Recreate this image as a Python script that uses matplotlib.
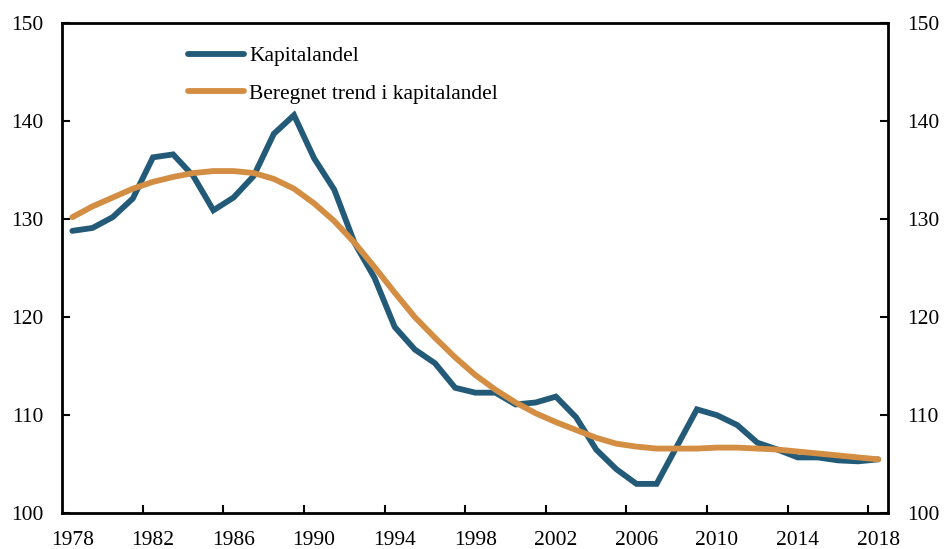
import matplotlib.pyplot as plt
import numpy as np

years = np.arange(1978, 2019)

kapitalandel = [
    128.8, 129.1, 130.2, 132.1, 136.3, 136.6, 134.4, 130.9, 132.2, 134.4,
    138.7, 140.6, 136.2, 133.0, 127.6, 124.0, 119.0, 116.7, 115.3, 112.8,
    112.3, 112.3, 111.1, 111.3, 111.9, 109.8, 106.5, 104.5, 103.0, 103.0,
    106.8, 110.6, 110.0, 109.0, 107.2, 106.5, 105.7, 105.7, 105.4, 105.3,
    105.5,
]

trend = [
    130.2, 131.3, 132.2, 133.1, 133.8, 134.3, 134.7, 134.9, 134.9, 134.7,
    134.1, 133.1, 131.6, 129.8, 127.6, 125.1, 122.5, 120.0, 117.9, 115.9,
    114.1, 112.6, 111.3, 110.2, 109.3, 108.5, 107.7, 107.1, 106.8, 106.6,
    106.6, 106.6, 106.7, 106.7, 106.6, 106.5, 106.3, 106.1, 105.9, 105.7,
    105.5,
]

label_years = np.arange(1978, 2019, 4)
y_ticks = [100, 110, 120, 130, 140, 150]

plt.rcParams["font.family"] = ["Liberation Serif", "DejaVu Serif"]
plt.rcParams["font.size"] = 15.5

fig = plt.figure(figsize=(9.45, 5.49), dpi=100)
ax = fig.add_axes([62.3 / 945, 1 - 513.3 / 549, 826 / 945, 490.3 / 549])

ax.plot(years, kapitalandel, color="#225a78", lw=4.2, solid_capstyle="round",
        solid_joinstyle="miter", label="Kapitalandel")
ax.plot(years, trend, color="#d38e43", lw=4.2, solid_capstyle="round",
        label="Beregnet trend i kapitalandel")

ax.set_xlim(1977.5, 2018.5)
ax.set_ylim(100, 150)

# labels centred on the years, tick marks between categories
ax.set_xticks(label_years)
ax.set_xticklabels([str(y) for y in label_years])
ax.tick_params(axis="x", which="major", length=0, pad=13)
ax.set_xticks(label_years[1:] - 0.5, minor=True)
ax.tick_params(axis="x", which="minor", direction="in", length=6, width=1.5)

ax.set_yticks(y_ticks)
ax.tick_params(axis="y", direction="in", length=6, width=1.5, pad=13.5,
               left=True, right=True, labelleft=True, labelright=True)

for s in ax.spines.values():
    s.set_linewidth(2)

ax.legend(loc="upper left", bbox_to_anchor=(0.152, 0.953), frameon=False,
          borderpad=0, borderaxespad=0, handlelength=2.6, handletextpad=0.25,
          labelspacing=0.82)

fig.savefig("out.png", dpi=100)
